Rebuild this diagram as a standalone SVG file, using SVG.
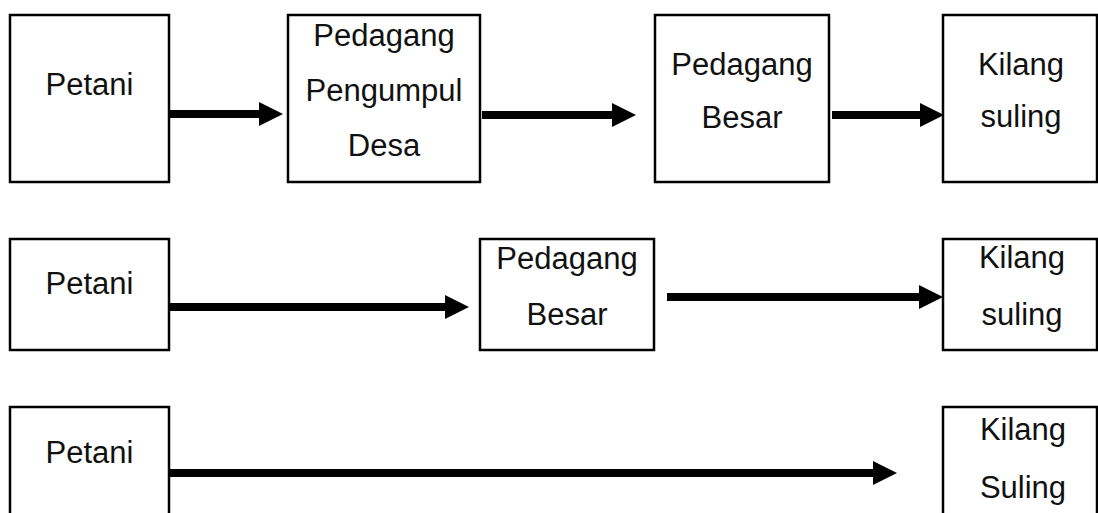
<svg xmlns="http://www.w3.org/2000/svg" width="1098" height="513" viewBox="0 0 1098 513">
<style>
.box{fill:#fff;stroke:#000;stroke-width:2.5}
.lbl{font-family:"Liberation Sans",Arial,sans-serif;font-size:31px;fill:#111;text-anchor:middle}
.conn{stroke:#000;stroke-width:8;fill:none}
</style>
<defs>
<marker id="ah" markerUnits="userSpaceOnUse" markerWidth="24" markerHeight="24" refX="0" refY="12" orient="auto" viewBox="0 0 24 24">
<path d="M0,0 L24,12 L0,24 Z" fill="#000"/>
</marker>
</defs>
<rect width="1098" height="513" fill="#fff"/>
<g id="connectors">
<line class="conn" x1="169" y1="114" x2="259" y2="114" marker-end="url(#ah)"/>
<line class="conn" x1="482" y1="115" x2="612" y2="115" marker-end="url(#ah)"/>
<line class="conn" x1="832" y1="115" x2="920" y2="115" marker-end="url(#ah)"/>
<line class="conn" x1="169" y1="307" x2="445" y2="307" marker-end="url(#ah)"/>
<line class="conn" x1="667" y1="297" x2="919" y2="297" marker-end="url(#ah)"/>
<line class="conn" x1="169" y1="473" x2="873" y2="473" marker-end="url(#ah)"/>
</g>
<g id="r1-petani"><rect class="box" x="10" y="15" width="159" height="167"/><text class="lbl" x="89.5" y="95">Petani</text></g>
<g id="r1-pengumpul"><rect class="box" x="288" y="15" width="192" height="167"/><text class="lbl" x="384" y="46">Pedagang</text><text class="lbl" x="384" y="101">Pengumpul</text><text class="lbl" x="384" y="156">Desa</text></g>
<g id="r1-besar"><rect class="box" x="655" y="15" width="174" height="167"/><text class="lbl" x="742" y="75">Pedagang</text><text class="lbl" x="742" y="128">Besar</text></g>
<g id="r1-kilang"><rect class="box" x="943" y="15" width="154" height="167"/><text class="lbl" x="1021" y="75">Kilang</text><text class="lbl" x="1021" y="127">suling</text></g>
<g id="r2-petani"><rect class="box" x="10" y="239" width="159" height="111"/><text class="lbl" x="89.5" y="294">Petani</text></g>
<g id="r2-besar"><rect class="box" x="480" y="239" width="174" height="111"/><text class="lbl" x="567" y="269">Pedagang</text><text class="lbl" x="567" y="325">Besar</text></g>
<g id="r2-kilang"><rect class="box" x="943" y="239" width="154" height="111"/><text class="lbl" x="1022" y="268">Kilang</text><text class="lbl" x="1022" y="325">suling</text></g>
<g id="r3-petani"><rect class="box" x="10" y="407" width="159" height="120"/><text class="lbl" x="89.5" y="463">Petani</text></g>
<g id="r3-kilang"><rect class="box" x="943" y="407" width="154" height="120"/><text class="lbl" x="1023" y="440">Kilang</text><text class="lbl" x="1023" y="498">Suling</text></g>
</svg>
